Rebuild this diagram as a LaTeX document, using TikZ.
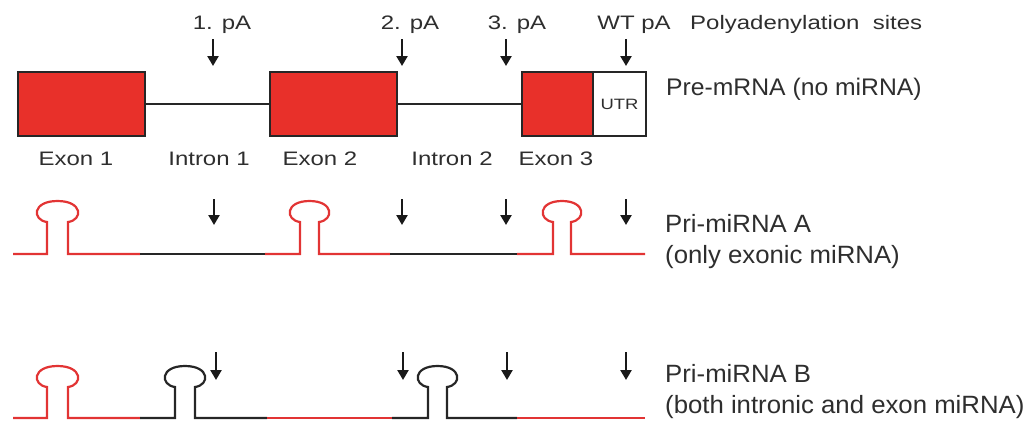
\documentclass[tikz,border=0pt]{standalone}
\usepackage{fontspec}
\setmainfont{Liberation Sans}[FakeStretch=1.23]
\newfontfamily\lowf{Liberation Sans}[FakeStretch=1.03]
\usetikzlibrary{arrows.meta}
\definecolor{exred}{HTML}{E8302A}
\definecolor{rnared}{HTML}{E23434}
\definecolor{txt}{HTML}{2E2E2E}
\tikzset{
  exon/.style={draw=black!85, line width=2.2pt, fill=exred, inner sep=0pt, minimum height=64pt},
  utrbox/.style={draw=black!85, line width=2.2pt, fill=white, inner sep=0pt, minimum height=64pt, font=\fontsize{15}{17}\selectfont, text=txt},
  lbl/.style={text=txt, font=\fontsize{19.5}{24}\selectfont, inner sep=0pt, anchor=base},
  lbw/.style={text=txt, font=\lowf\fontsize{25}{30}\selectfont, inner sep=0pt, anchor=base west},
  intron/.style={line width=2.2pt, black!85},
  pa/.style={line width=2.4pt, black!90, -{Triangle[width=11pt,length=10pt]}},
  rr/.style={line width=2.2pt, rnared},
  rb/.style={line width=2.2pt, black!85},
  hp/.style n args={4}{insert path={-- (#1,#3) -- (#1,#3-#4)
     .. controls (#1-15,#3-#4-2) and (#1-15,#3-#4-21) .. ({(#1+#2)/2},#3-#4-21)
     .. controls (#2+15,#3-#4-21) and (#2+15,#3-#4-2) .. (#2,#3-#4) -- (#2,#3)}}
}
\begin{document}
\begin{tikzpicture}[x=1pt,y=-1pt]
\useasboundingbox (0,0) rectangle (1024,424);
% pre-mRNA
\node[exon, minimum width=127pt] (e1) at (81.5,104) {};
\node[exon, minimum width=127pt] (e2) at (333.5,104) {};
\node[exon, minimum width=71pt] (e3) at (557.5,104) {};
\node[utrbox, minimum width=53pt] (utr) at (619.5,104) {UTR};
\draw[intron] (e1.east) -- (e2.west);
\draw[intron] (e2.east) -- (e3.west);
% labels below boxes
\node[lbl] (l1) at (76,165) {Exon 1};
\node[lbl] (l2) at (209,165) {Intron 1};
\node[lbl] (l3) at (320,165) {Exon 2};
\node[lbl] (l4) at (452,165) {Intron 2};
\node[lbl] (l5) at (556,165) {Exon 3};
\node[lbw, font=\lowf\fontsize{24}{28}\selectfont] (pre) at (666,95) {Pre-mRNA (no miRNA)};
% pA labels
\node[lbl] (p1) at (222,29) {1. pA};
\node[lbl] (p2) at (410,29) {2. pA};
\node[lbl] (p3) at (517,29) {3. pA};
\node[lbl] (pw) at (634,29) {WT pA};
\node[lbl, anchor=base west] (ps) at (690,29) {Polyadenylation\ \ sites};
% arrows top
\coordinate (t1s) at (213,39); \coordinate (t1e) at (213,66);
\coordinate (t2s) at (402,39); \coordinate (t2e) at (402,66);
\coordinate (t3s) at (506,39); \coordinate (t3e) at (506,66);
\coordinate (t4s) at (626,39); \coordinate (t4e) at (626,66);
\foreach \i in {1,...,4} \draw[pa] (t\i s) -- (t\i e);
% Pri-miRNA A
\draw[rr] (13,254) [hp={47}{68}{254}{32}] -- (140,254);
\draw[rb] (140,254) -- (265,254);
\draw[rr] (265,254) [hp={300}{319}{254}{32}] -- (390,254);
\draw[rb] (390,254) -- (517,254);
\draw[rr] (517,254) [hp={553}{571}{254}{32}] -- (645,254);
\coordinate (a1s) at (214,199); \coordinate (a1e) at (214,225);
\coordinate (a2s) at (402,199); \coordinate (a2e) at (402,225);
\coordinate (a3s) at (506,199); \coordinate (a3e) at (506,225);
\coordinate (a4s) at (626,199); \coordinate (a4e) at (626,225);
\foreach \i in {1,...,4} \draw[pa] (a\i s) -- (a\i e);
\node[lbw] (pa1) at (665,232) {Pri-miRNA A};
\node[lbw] (pa2) at (665,263) {(only exonic miRNA)};
% Pri-miRNA B
\draw[rr] (13,418) [hp={47}{68}{418}{31}] -- (140,418);
\draw[rb] (140,418) [hp={175}{195}{418}{31}] -- (267,418);
\draw[rr] (267,418) -- (392,418);
\draw[rb] (392,418) [hp={428}{447}{418}{31}] -- (517,418);
\draw[rr] (517,418) -- (645,418);
\coordinate (b1s) at (216,352); \coordinate (b1e) at (216,380);
\coordinate (b2s) at (403,352); \coordinate (b2e) at (403,380);
\coordinate (b3s) at (507,352); \coordinate (b3e) at (507,380);
\coordinate (b4s) at (626,352); \coordinate (b4e) at (626,380);
\foreach \i in {1,...,4} \draw[pa] (b\i s) -- (b\i e);
\node[lbw] (pb1) at (665,382) {Pri-miRNA B};
\node[lbw] (pb2) at (665,413) {(both intronic and exon miRNA)};
\end{tikzpicture}
\end{document}
